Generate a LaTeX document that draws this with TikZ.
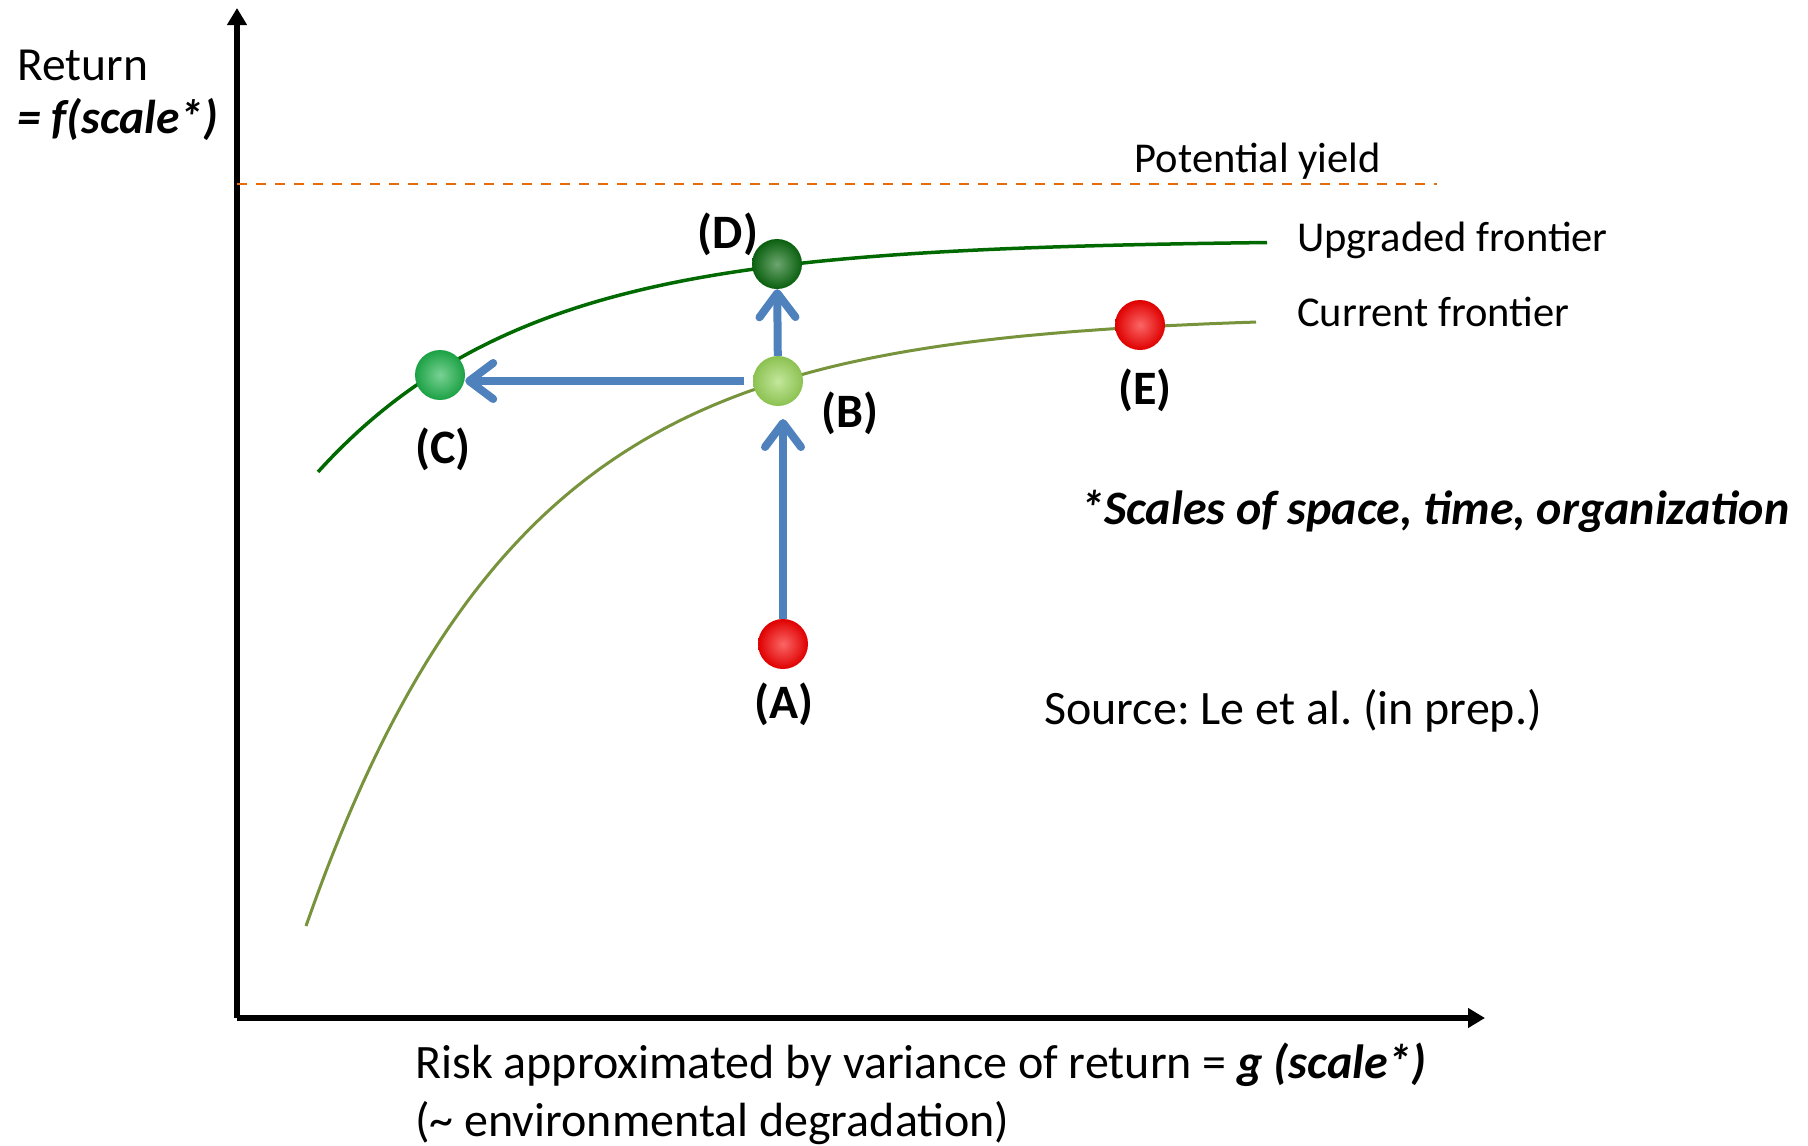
\documentclass[tikz,border=0pt]{standalone}
\usepackage{fontspec}
\setmainfont{Carlito}
\usetikzlibrary{arrows.meta}
\definecolor{flowblue}{HTML}{4F81BD}
\definecolor{upgreen}{HTML}{006A00}
\definecolor{curgreen}{HTML}{77933C}
\definecolor{potorange}{HTML}{E46C0A}
\definecolor{ballred}{HTML}{F80000}
\definecolor{balllight}{HTML}{9BD75A}
\definecolor{ballmid}{HTML}{1FB34C}
\definecolor{balldark}{HTML}{0B6A10}
\frenchspacing
\tikzset{
  axis/.style={line width=6pt, -{Triangle[length=17pt,width=19pt]}},
  flow/.style={line width=8pt, flowblue, -{Straight Barb[length=24pt,width=36pt,round]}},
  ballnode/.style={circle, minimum size=50pt, inner sep=0pt, shading=radial,
    inner color=#1!60!white, outer color=#1!90!black},
  txt/.style={inner sep=0pt, font=\fontsize{42.5pt}{48pt}\selectfont},
  bigtxt/.style={inner sep=0pt, font=\fontsize{47.5pt}{52pt}\selectfont},
  notetxt/.style={inner sep=0pt, font=\fontsize{48pt}{54pt}\selectfont},
  lbl/.style={inner sep=0pt, font=\fontsize{48pt}{52pt}\selectfont\bfseries},
}
\begin{document}
\begin{tikzpicture}[x=1pt,y=-1pt]
\useasboundingbox (0,0) rectangle (1808,1146);
% axes
\coordinate (O) at (237,1018);
\coordinate (Ytop) at (237,8);
\coordinate (Xend) at (1485,1018);
\draw[axis] (O) -- (Ytop);
\draw[axis] (O) -- (Xend);
% potential yield
\coordinate (P1) at (237,184);
\coordinate (P2) at (1437,184);
\draw[potorange, line width=2.8pt, dash pattern=on 10pt off 9pt] (P1) -- (P2);
\node[txt, anchor=base east] (pot) at (1381,172) {Potential yield};
% frontiers
\draw[upgreen, line width=3.5pt] plot[domain=318:1267, samples=120, smooth] (\x, {240+233*exp(-(\x-317)/210)});
\draw[curgreen, line width=3pt] plot[domain=306:1256, samples=120, smooth] (\x, {315+611*exp(-(\x-306)/213)});
\node[txt, anchor=base west] (upl) at (1297,251) {Upgraded frontier};
\node[txt, anchor=base west] (cul) at (1297,326) {Current frontier};
% balls
\node[ballnode=ballred] (A) at (783,644) {};
\node[ballnode=balllight] (B) at (778,381) {};
\node[ballnode=ballmid] (C) at (440,375) {};
\node[ballnode=balldark] (D) at (777,264) {};
\node[ballnode=ballred] (E) at (1140,325) {};
% arrows
\draw[flow, shorten >=38pt] (A) -- (A |- B);
\draw[flow] (B) -- (D);
\draw[flow, shorten <=9pt] (B) -- (B -| C.east);
% point labels
\node[lbl] (la) at (784,704) {(A)};
\node[lbl] (lb) at (850,413) {(B)};
\node[lbl] (lc) at (443,449) {(C)};
\node[lbl] (ld) at (728,234) {(D)};
\node[lbl] (le) at (1145,390) {(E)};
% axis labels
\node[bigtxt, anchor=base west] (ret) at (17,80) {Return};
\node[bigtxt, anchor=base west] (fsc) at (17,133) {\textbf{\textit{= f(scale*)}}};
\node[notetxt, anchor=base west] (risk) at (415,1078) {Risk approximated by variance of return = \textbf{\textit{g (scale*)}}};
\node[notetxt, anchor=base west] (env) at (415,1136) {(\textasciitilde{} environmental degradation)};
% notes
\node[notetxt, anchor=base west] (scales) at (1080,524) {\textbf{\textit{*Scales of space, time, organization}}};
\node[notetxt, anchor=base west] (src) at (1044,724) {Source: Le et al. (in prep.)};
\end{tikzpicture}
\end{document}
